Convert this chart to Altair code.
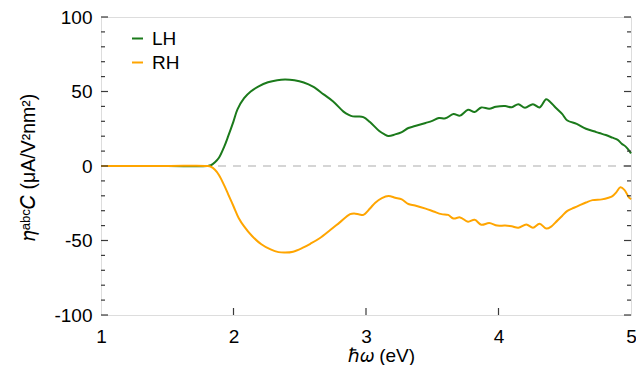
import altair as alt
import pandas as pd

# LH series (photon energy in eV, value)
lh_x = [1.00, 1.50, 1.80, 1.83, 1.86, 1.89, 1.93, 1.96, 2.00, 2.03, 2.08, 2.13, 2.19, 2.26, 2.33, 2.39,
        2.46, 2.53, 2.60, 2.68, 2.75, 2.83, 2.87, 2.90, 2.94, 2.98, 3.03, 3.10, 3.14, 3.17, 3.22,
        3.27, 3.32, 3.37, 3.45, 3.50, 3.55, 3.60, 3.66, 3.71, 3.77, 3.82, 3.87, 3.93, 3.98, 4.05,
        4.10, 4.15, 4.20, 4.26, 4.31, 4.36, 4.39, 4.43, 4.48, 4.52, 4.59, 4.66, 4.72, 4.76, 4.81,
        4.86, 4.90, 4.93, 4.96, 4.98, 5.00]
lh_y = [0, 0, 0, 0.5, 2.5, 5.5, 13, 20, 30, 38, 45.5, 50, 53.5, 56.2, 57.6, 58,
        57.5, 56, 53.2, 48.1, 43.5, 36.5, 34.3, 33.3, 33.2, 32.8, 29.5, 23.5, 21.2, 20.1, 21.2,
        22.8, 25.5, 26.8, 28.9, 30.3, 32.2, 32, 34.9, 33.8, 37.7, 36.2, 39.3, 38.4, 39.7, 40.2,
        39.5, 41.5, 39.1, 41.5, 39.3, 44.8, 43, 39.3, 35, 30.5, 28.3, 25, 23.3, 22.1, 20.8,
        19, 17.5, 15, 13, 11, 8.5]

# RH series
rh_x = [1.00, 1.50, 1.80, 1.83, 1.86, 1.89, 1.93, 1.96, 2.00, 2.04, 2.08, 2.14, 2.21, 2.28, 2.34, 2.39,
        2.45, 2.52, 2.58, 2.65, 2.73, 2.80, 2.88, 2.91, 2.95, 2.98, 3.03, 3.07, 3.12, 3.17, 3.22,
        3.27, 3.32, 3.37, 3.45, 3.51, 3.57, 3.62, 3.66, 3.71, 3.77, 3.82, 3.87, 3.93, 3.99, 4.05,
        4.10, 4.15, 4.21, 4.26, 4.31, 4.36, 4.40, 4.43, 4.48, 4.52, 4.57, 4.61, 4.66, 4.71, 4.78,
        4.83, 4.86, 4.89, 4.92, 4.95, 4.98, 5.00]
rh_y = [0, 0, 0, -0.5, -2.5, -6, -13, -19, -27, -35, -40.5, -47, -52.5, -56, -57.8, -58.1,
        -57.5, -55, -52.2, -48.5, -43, -38, -32.3, -31.8, -32.5, -32.8, -28.5, -24.6, -21.5, -20.2, -21.3,
        -22.4, -25.5, -26.5, -28.6, -30.5, -32.3, -32.8, -35.2, -34.5, -37.4, -36.1, -39.4, -38.3, -40, -40,
        -40.5, -41.4, -39.2, -41.4, -38.7, -42, -40.5, -37.9, -33.5, -30.1, -28, -26.4, -24.5, -22.9, -22.4,
        -21.3, -20.2, -17.5, -14.3, -16, -20.5, -22.4]

series_names = ["LH", "RH"]
series_colors = ["#1b7a1b", "#ffa500"]

x_ticks = [1, 2, 3, 4, 5]
x_inner_ticks = [2, 3, 4]
y_ticks = [-100, -50, 0, 50, 100]
y_minor = [-90, -80, -70, -60, -40, -30, -20, -10, 10, 20, 30, 40, 60, 70, 80, 90]

W, H = 530, 298
FONT = "Liberation Sans"

df = pd.concat([
    pd.DataFrame({"e": lh_x, "v": lh_y, "s": "LH"}),
    pd.DataFrame({"e": rh_x, "v": rh_y, "s": "RH"}),
], ignore_index=True)

xscale = alt.Scale(domain=[1, 5], nice=False, zero=False)
yscale = alt.Scale(domain=[-100, 100], nice=False, zero=False)

xaxis = alt.Axis(values=x_ticks, ticks=False, tickSize=0, domain=False, grid=False,
                 labelFont=FONT, labelFontSize=19, labelColor="black", labelPadding=12,
                 labelExpr="'' + datum.value",
                 title="ℏ𝜔 (eV)", titleFont=FONT, titleFontSize=19, titleFontWeight=400,
                 titleColor="black", titleX=280, titleY=46, titleAlign="center",
                 titleBaseline="alphabetic", labelFlush=False, labelOverlap=False)
yaxis = alt.Axis(values=y_ticks, ticks=False, tickSize=0, domain=False, grid=False,
                 labelFont=FONT, labelFontSize=19, labelColor="black", labelPadding=9,
                 labelExpr="'' + datum.value",
                 title="𝜂ᵃᵇᶜ𝐶 (μA/V²nm²)", titleFont=FONT, titleFontSize=19.5,
                 titleFontWeight=400, titleColor="black", titleX=-67, titleY=150,
                 titleAlign="center", titleBaseline="alphabetic", titleAngle=270,
                 labelFlush=False, labelOverlap=False)

zero = alt.Chart(pd.DataFrame({"z": [0]})).mark_rule(
    color="#c8c8c8", strokeWidth=1.6, strokeDash=[8, 7]
).encode(y=alt.Y("z:Q", scale=yscale, axis=yaxis))

lines = alt.Chart(df).mark_line(strokeWidth=2, interpolate="catmull-rom").encode(
    x=alt.X("e:Q", scale=xscale, axis=xaxis),
    y=alt.Y("v:Q", scale=yscale, axis=yaxis),
    color=alt.Color("s:N", scale=alt.Scale(domain=series_names, range=series_colors),
                    legend=alt.Legend(orient="none", legendX=27, legendY=12, title=None,
                                      symbolType="stroke", symbolSize=121, symbolStrokeWidth=2,
                                      labelFont=FONT, labelFontSize=19, labelColor="black",
                                      rowPadding=4, labelOffset=5, padding=0)),
    order=alt.Order("e:Q"),
)

ymaj = pd.DataFrame({"t": y_ticks})
ymin = pd.DataFrame({"t": y_minor})
xmaj = pd.DataFrame({"t": x_inner_ticks})
tick_style = dict(color="#3a3a3a", strokeWidth=1.2)

left_major = alt.Chart(ymaj).mark_rule(**tick_style).encode(
    y=alt.Y("t:Q", scale=yscale, axis=yaxis), x=alt.value(0), x2=alt.value(7))
left_minor = alt.Chart(ymin).mark_rule(**tick_style).encode(
    y=alt.Y("t:Q", scale=yscale, axis=yaxis), x=alt.value(0), x2=alt.value(4))
right_major = alt.Chart(ymaj).mark_rule(**tick_style).encode(
    y=alt.Y("t:Q", scale=yscale, axis=yaxis), x=alt.value(W), x2=alt.value(W - 7))
right_minor = alt.Chart(ymin).mark_rule(**tick_style).encode(
    y=alt.Y("t:Q", scale=yscale, axis=yaxis), x=alt.value(W), x2=alt.value(W - 4))
bottom_major = alt.Chart(xmaj).mark_rule(**tick_style).encode(
    x=alt.X("t:Q", scale=xscale, axis=xaxis), y=alt.value(H), y2=alt.value(H - 7))

chart = alt.layer(
    zero, lines, left_major, left_minor, right_major, right_minor, bottom_major
).properties(
    width=W, height=H,
    autosize=alt.AutoSizeParams(type="none"),
    padding={"left": 93, "top": 9, "right": 5, "bottom": 50},
).configure_view(
    stroke="#3a3a3a", strokeWidth=1.3
).configure_axis(
    titleFontWeight=400
).configure(background="white")

chart.save("out.html", embed_options={"renderer": "svg", "actions": False})
